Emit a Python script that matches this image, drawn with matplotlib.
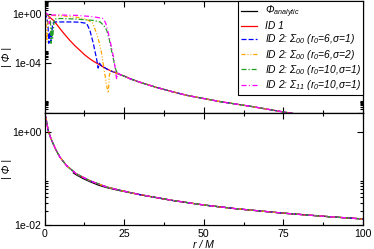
import numpy as np
import matplotlib
matplotlib.use("Agg")
import matplotlib.pyplot as plt
from matplotlib.ticker import FixedLocator, FixedFormatter, NullFormatter

plt.rcParams['font.family'] = ['Liberation Sans', 'DejaVu Sans']
plt.rcParams['mathtext.fontset'] = 'custom'
plt.rcParams['mathtext.rm'] = 'Liberation Sans:italic'
plt.rcParams['mathtext.it'] = 'Liberation Sans:italic'
plt.rcParams['mathtext.default'] = 'it'
plt.rcParams['lines.scale_dashes'] = False

# ---------------- data ----------------
# bottom panel: common |Phi| curve of all runs
r_all = [0, 0.5, 1.1, 2, 2.7, 3.5, 4.8, 6.9, 10, 14.2, 19.5, 23.7, 30, 40, 50, 60, 75, 90, 100]
phi_all = [2.6, 1.85, 1.09, 0.72, 0.56, 0.42, 0.29, 0.19, 0.126, 0.09, 0.066, 0.056,
           0.045, 0.034, 0.027, 0.0225, 0.018, 0.015, 0.0135]
# analytic curve (bottom panel)
r_ana = [9, 10, 12, 14.2, 17, 19.5, 23.7, 30, 40, 50, 60, 75, 90, 100]
phi_ana = [0.133, 0.12, 0.101, 0.086, 0.072, 0.064, 0.055, 0.045, 0.034, 0.027,
           0.0225, 0.018, 0.015, 0.0135]

# top panel: common tail (log10 of |Phi|)
r_tail = [17, 18, 19.5, 21, 22, 23.7, 25, 27, 30, 35, 40, 45, 50, 55, 60, 65, 70, 75, 80]
lg_tail = [-4.1, -4.25, -4.47, -4.65, -4.75, -4.93, -5.05, -5.28, -5.55, -5.95, -6.3,
           -6.62, -6.86, -7.1, -7.3, -7.5, -7.72, -7.94, -8.15]

# top panel: early parts of each run (log10 of |Phi|)
r_id1 = [0, 1, 2, 2.7, 4, 4.8, 6, 7.9, 9.5, 11.1, 12.5, 14.2, 15.5, 16.8]
lg_id1 = [0.13, -0.15, -0.40, -0.54, -0.95, -1.22, -1.6, -2.17, -2.6, -2.98, -3.32,
          -3.66, -3.88, -4.07]

r_s6a = [0, 0.5, 1.0, 1.3, 1.6, 2.0, 2.5, 3.2, 5, 8, 11, 13.2, 14.2, 15.3, 16.3, 16.8, 17.2, 17.8]
lg_s6a = [0.05, -0.2, -0.8, -2.4, -1.5, -2.3, -0.8, -0.68, -0.68, -0.68, -0.7, -0.8,
          -1.36, -2.44, -3.66, -4.4, -4.0, -4.2]

r_s6b = [0, 0.3, 0.5, 0.7, 0.9, 1.2, 2, 6, 10, 13, 15, 16.3, 17.2, 17.9, 18.9, 19.6, 20, 20.3, 20.7]
lg_s6b = [0.1, 0.0, -1.5, -2.3, -1.0, -0.3, -0.15, -0.2, -0.3, -0.45, -0.75, -1.6,
          -2.4, -3.25, -4.9, -6.0, -6.4, -5.0, -4.6]

r_s10 = [0, 1, 1.8, 2.0, 2.2, 2.5, 3, 5, 10, 15, 17.4, 18.5, 19.5, 20.3, 21, 21.6, 22.1, 22.6, 23.2]
lg_s10 = [0.05, -0.1, -0.5, -2.4, -1.2, -2.0, -0.45, -0.4, -0.45, -0.55, -0.68, -0.95,
          -1.36, -2.1, -3.0, -3.7, -4.34, -4.7, -4.85]

r_s11 = [0, 0.5, 1.2, 1.5, 1.8, 2.5, 5, 10, 15, 18.4, 19.2, 20, 20.8, 21.6, 22.2, 22.6, 23.0, 23.7]
lg_s11 = [0.13, 0.0, -0.1, -0.8, -0.2, -0.12, -0.12, -0.15, -0.25, -0.4, -0.8, -1.6,
          -2.5, -3.5, -4.5, -5.3, -4.8, -4.93]

labels = [r'$\Phi_{analytic}$', 'ID 1',
          r'ID 2: $\Sigma_{00}$ ($r_0$=6,$\sigma$=1)',
          r'ID 2: $\Sigma_{00}$ ($r_0$=6,$\sigma$=2)',
          r'ID 2: $\Sigma_{00}$ ($r_0$=10,$\sigma$=1)',
          r'ID 2: $\Sigma_{11}$ ($r_0$=10,$\sigma$=1)']
colors = ['black', '#ff0000', '#0000ff', '#ffa500', '#20a020', '#ff00ff']
dashes = ['-', '-', (0, (3.6, 1.5)), (0, (2.9, 1.4, 0.7, 1.4, 0.7, 1.4)),
          (0, (3.6, 1.4, 0.9, 1.4)), (0, (3.6, 1.7, 0.7, 1.9))]

def full(r_e, lg_e):
    r_e = np.asarray(r_e, float)
    lg_e = np.asarray(lg_e, float)
    rt = np.asarray(r_tail, float)
    lt = np.asarray(lg_tail, float)
    m = rt > r_e[-1]
    return np.concatenate([r_e, rt[m]]), 10.0 ** np.concatenate([lg_e, lt[m]])

early = [(r_id1, lg_id1), (r_s6a, lg_s6a), (r_s6b, lg_s6b), (r_s10, lg_s10), (r_s11, lg_s11)]

W, H = 374, 249
fig = plt.figure(figsize=(W / 100, H / 100), dpi=100)
L, R = 44.7, 363.0
ax1 = fig.add_axes([L / W, 1 - 112.7 / H, (R - L) / W, (112.7 - 1.0) / H])
ax2 = fig.add_axes([L / W, 1 - 225.0 / H, (R - L) / W, (225.0 - 112.7) / H])

lw = 0.9
# top panel
ax1.plot([], [], color=colors[0], lw=lw, ls=dashes[0], label=labels[0])
for (re_, le_), c, d, lab in zip(early, colors[1:], dashes[1:], labels[1:]):
    rr, pp = full(re_, le_)
    ax1.plot(rr, pp, color=c, lw=lw, ls=d, label=lab)

# bottom panel
ax2.plot(r_ana, phi_ana, color=colors[0], lw=lw, ls=dashes[0])
for c, d in zip(colors[1:], dashes[1:]):
    ax2.plot(r_all, phi_all, color=c, lw=lw, ls=d)

for ax in (ax1, ax2):
    ax.set_yscale('log')
    ax.set_xlim(0, 100)
    ax.xaxis.set_major_locator(FixedLocator([0, 25, 50, 75, 100]))
    ax.xaxis.set_minor_locator(FixedLocator([12.5, 37.5, 62.5, 87.5]))
    ax.tick_params(which='both', direction='in', top=True, right=True, width=0.8,
                   labelsize=7.6, pad=2.5)
    ax.tick_params(which='major', length=4)
    ax.tick_params(which='minor', length=2)
    for s in ax.spines.values():
        s.set_linewidth(0.9)

ax1.set_ylim(1e-8, 10 ** 1.01)
ax1.yaxis.set_major_locator(FixedLocator([1e0, 1e-4, 1e-8]))
ax1.yaxis.set_major_formatter(FixedFormatter(['1e+00', '1e-04', '']))
ax1.yaxis.set_minor_locator(FixedLocator([k * 10.0 ** e for e in (0, -4, -8) for k in range(2, 10)]))
ax1.yaxis.set_minor_formatter(NullFormatter())
ax1.xaxis.set_major_formatter(NullFormatter())

ax2.set_ylim(1e-2, 2.65)
ax2.yaxis.set_major_locator(FixedLocator([1e0, 1e-2]))
ax2.yaxis.set_major_formatter(FixedFormatter(['1e+00', '1e-02']))
ax2.yaxis.set_minor_locator(FixedLocator([k * 1e-2 for k in range(2, 10)]))
ax2.yaxis.set_minor_formatter(NullFormatter())
ax2.xaxis.set_major_formatter(FixedFormatter(['0', '25', '50', '75', '100']))
ax2.tick_params(axis='x', pad=3)

for ax in (ax1, ax2):
    lab = ax.set_ylabel('| Φ |', fontsize=7.6, style='italic')
    lab.set_verticalalignment('center')
    lab.set_horizontalalignment('center')
    ax.yaxis.set_label_coords(-0.118, 0.5)
ax2.set_xlabel('r / M', fontsize=7.6, style='italic', labelpad=0.5)

leg = ax1.legend(loc='upper right', prop={'style': 'italic', 'size': 7.4},
                 frameon=True, fancybox=False, framealpha=1, edgecolor='black',
                 borderaxespad=0.0, borderpad=0.25, handlelength=1.55,
                 handletextpad=0.75, labelspacing=0.12)
leg.get_frame().set_linewidth(0.8)

fig.savefig('out.png', dpi=100)
